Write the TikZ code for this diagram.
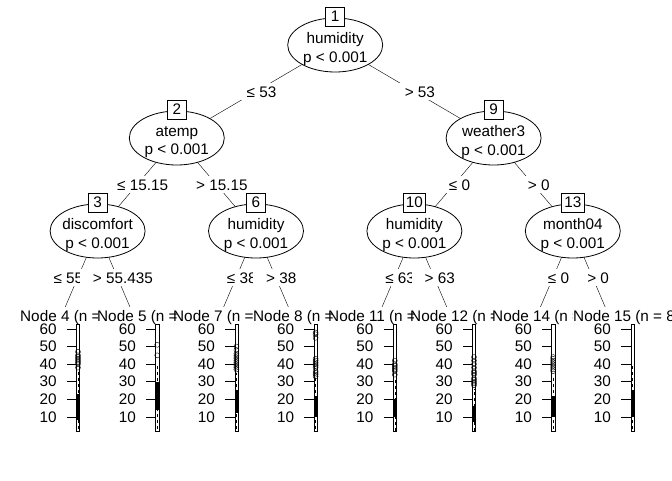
\documentclass[tikz,border=0pt]{standalone}
\usepackage{fontspec}
\setmainfont{Liberation Sans}
\usetikzlibrary{shapes.geometric, positioning, backgrounds}

\newcommand{\vy}[1]{110.3-1.755*(#1)}
% #1 leaf, #2 title x, #3 title, #4..#7 whiskers and box, #8 outliers
\newcommand{\leafpanel}[8]{%
  \begin{scope}[shift={(#1)}]
    \fill[white] (-39.6,-17) rectangle (39.6,126);
    \node[leaftitle] (#1title) at (#2,-2.5) {#3};
    \foreach \v in {10,20,...,60} {
      \draw (8.8,{\vy{\v}}) -- (18.4,{\vy{\v}});
      \node[ticklab] (#1y\v) at (-1.2,{\vy{\v}}) {\v};
    }
    \draw[dashed] (20,{\vy{#4}}) -- (20,{\vy{#7}});
    \fill (18.4,{\vy{#5}}) rectangle (21.6,{\vy{#6}});
    \if\relax\detokenize{#8}\relax\else
      \foreach \o in {#8} \draw (20,{\vy{\o}}) circle[radius=2.5pt];
    \fi
    \draw (18.4,0) rectangle (21.6,107);
  \end{scope}}

\begin{document}
\begin{tikzpicture}[x=1pt, y=-1pt, line width=0.8pt, on grid,
  font=\fontsize{15.3}{18.7}\selectfont,
  inner/.style={ellipse, draw, fill=white, minimum width=95pt, minimum height=54pt, inner sep=0pt},
  vartext/.style={align=center, inner sep=0pt},
  idbox/.style={draw, fill=white, minimum width=19pt, minimum height=19pt, inner xsep=2.8pt, inner ysep=0pt},
  split/.style={fill=white, inner xsep=13pt, inner ysep=3pt, text height=11pt, text depth=0pt, xshift=5.5pt},
  leaftitle/.style={anchor=base west, inner sep=0pt},
  ticklab/.style={anchor=east, inner sep=0pt}]

   \useasboundingbox (0,0) rectangle (672,480);

   \node[inner] (n1) at (335.2,45) {};
   \node[inner] (n2) [below left=93pt and 158.4pt of n1] {};
   \node[inner] (n9) [below right=93pt and 158.4pt of n1] {};
   \node[inner] (n3) [below left=93pt and 79.2pt of n2] {};
   \node[inner] (n6) [below right=93pt and 79.2pt of n2] {};
   \node[inner] (n10) [below left=93pt and 79.2pt of n9] {};
   \node[inner] (n13) [below right=93pt and 79.2pt of n9] {};

   \node[vartext] (n1v) [below=4pt of n1] {humidity\\p < 0.001};
   \node[vartext] (n2v) [below=4pt of n2] {atemp\\p < 0.001};
   \node[vartext] (n9v) [below=4pt of n9] {weather3\\p < 0.001};
   \node[vartext] (n3v) [below=4pt of n3] {discomfort\\p < 0.001};
   \node[vartext] (n6v) [below=4pt of n6] {humidity\\p < 0.001};
   \node[vartext] (n10v) [below=4pt of n10] {humidity\\p < 0.001};
   \node[vartext] (n13v) [below=4pt of n13] {month04\\p < 0.001};

   \node[idbox] (b1) [above=28.5pt of n1] {1};
   \node[idbox] (b2) [above=28.5pt of n2] {2};
   \node[idbox] (b9) [above=28.5pt of n9] {9};
   \node[idbox] (b3) [above=28.5pt of n3] {3};
   \node[idbox] (b6) [above=28.5pt of n6] {6};
   \node[idbox] (b10) [above=28.5pt of n10] {10};
   \node[idbox] (b13) [above=28.5pt of n13] {13};

   \coordinate[below left=93pt and 39.6pt of n3] (t4);
   \coordinate[below right=93pt and 39.6pt of n3] (t5);
   \coordinate[below left=93pt and 39.6pt of n6] (t7);
   \coordinate[below right=93pt and 39.6pt of n6] (t8);
   \coordinate[below left=93pt and 39.6pt of n10] (t11);
   \coordinate[below right=93pt and 39.6pt of n10] (t12);
   \coordinate[below left=93pt and 39.6pt of n13] (t14);
   \coordinate[below right=93pt and 39.6pt of n13] (t15);

   \begin{pgfonlayer}{background}
   \path
   (n1.center) edge node[split] {≤ 53} (n2.center)
               edge node[split] {> 53} (n9.center)
   (n2.center) edge node[split] {≤ 15.15} (n3.center)
               edge node[split] {> 15.15} (n6.center)
   (n9.center) edge node[split] {≤ 0} (n10.center)
               edge node[split] {> 0} (n13.center)
   (n3.center) edge node[split] {≤ 55.435} (t4)
               edge node[split] {> 55.435} (t5)
   (n6.center) edge node[split] {≤ 38} (t7)
               edge node[split] {> 38} (t8)
   (n10.center) edge node[split] {≤ 63} (t11)
                edge node[split] {> 63} (t12)
   (n13.center) edge node[split] {≤ 0} (t14)
                edge node[split] {> 0} (t15);
   \end{pgfonlayer}

   \leafpanel{t4}{-38}{Node 4 (n =}{3}{8}{23}{37}{38,40,41,42,43,44,45,47}
   \leafpanel{t5}{-40.2}{Node 5 (n =}{3}{14}{30}{40}{45,51}
   \leafpanel{t7}{-43.4}{Node 7 (n =}{3}{12}{25}{35}{37,38,39,40,41,42,43,44,45,46,48,50}
   \leafpanel{t8}{-42.6}{Node 8 (n =}{3}{10}{22}{32}{33,34,35,36,38,39,40,41,42,43,55,57,58}
   \leafpanel{t11}{-46.8}{Node 11 (n =}{2}{10}{20}{32}{34,36,37,38,39,40,42}
   \leafpanel{t12}{-44}{Node 12 (n =}{2}{7}{16}{26}{28,29,30,31,32,34,35,36,38,40,42,44}
   \leafpanel{t14}{-41.2}{Node 14 (n =}{3}{10}{22}{33}{36,37,38,39,40,41,42,43,44}
   \leafpanel{t15}{-39.4}{Node 15 (n = 8}{3}{10}{25}{39}{}

\end{tikzpicture}
\end{document}
